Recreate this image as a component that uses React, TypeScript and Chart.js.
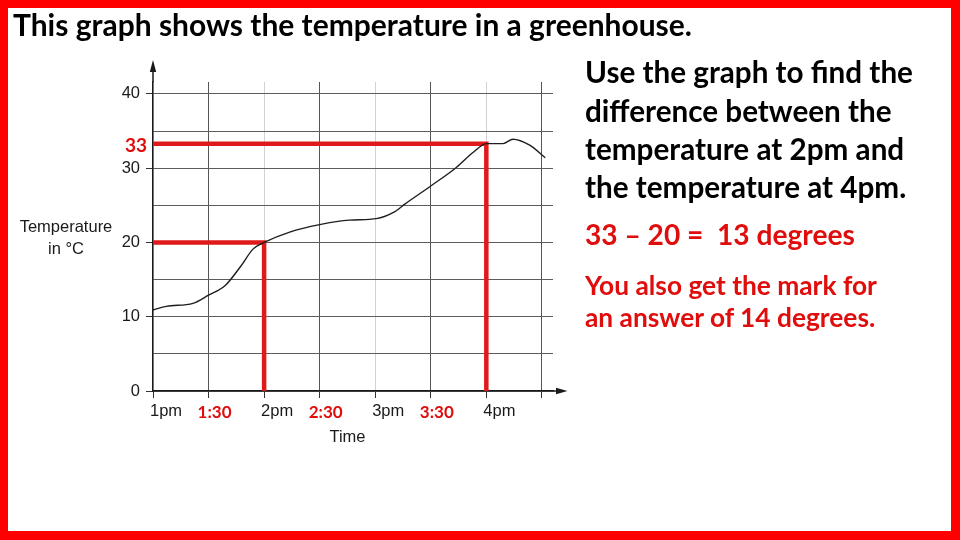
import React, { useEffect, useRef, useMemo } from 'react';
import { Chart, registerables } from 'chart.js';

Chart.register(...registerables);

// ---------- texts ----------
const titleText = 'This graph shows the temperature in a greenhouse.';
const questionLines = [
  'Use the graph to find the',
  'difference between the',
  'temperature at 2pm and',
  'the temperature at 4pm.',
];
const answerLine = '33 \u2013 20 =  13 degrees';
const noteLines = ['You also get the mark for', 'an answer of 14 degrees.'];
const yAxisLabelLines = ['Temperature', 'in \u00B0C'];
const xAxisTitle = 'Time';

// ---------- data (hours after 1pm, temperature in °C) ----------
const hoursAfter1pm = [0, 0.12, 0.36, 0.5, 0.65, 0.79, 0.9, 1.0, 1.23, 1.5, 1.77, 2.01, 2.16, 2.27, 2.5, 2.73, 2.88, 3.0, 3.15, 3.24, 3.39, 3.53];
const temperatures = [10.9, 11.4, 11.8, 12.9, 14.2, 16.8, 19.1, 20.0, 21.4, 22.4, 23.0, 23.2, 24.0, 25.2, 27.6, 30.1, 32.1, 33.3, 33.3, 33.9, 33.1, 31.4];

// ---------- ticks ----------
const hourTickLabels = ['1pm', '', '2pm', '', '3pm', '', '4pm', ''];
const halfHourLabels = ['', '1:30', '', '2:30', '', '3:30', '', ''];
const xStep = 0.5;
const xMax = 3.6;
const yStep = 5;
const yLabelStep = 10;
const yMax = 41.6;

// ---------- readings (2pm and 4pm) ----------
const readTimes = [1, 3];
const readTemps = [20, 33.3];
const readLabel = '33';

const RED_LINE = '#e01a1a';
const RED_TEXT = '#e00d0d';
const INK = '#1a1a1a';
const FONT_SANS = '"Liberation Sans", Arial, sans-serif';
const FONT_BOLD = 'Lato, "Open Sans", sans-serif';
const SANS_SIZE = 16.5;

function fitFontSize(text: string, family: string, width: number): number {
  const c = document.createElement('canvas').getContext('2d');
  if (!c) return 24;
  c.font = `bold 100px ${family}`;
  const w = c.measureText(text).width;
  return w > 0 ? (100 * width) / w : 24;
}

function TextLine(props: { text: string; left: number; baseline: number; size: number; color: string }) {
  const { text, left, baseline, size, color } = props;
  const L = Math.round(size * 1.3);
  const top = baseline - L / 2 - 0.387 * size;
  return (
    <div
      style={{
        position: 'absolute',
        left,
        top,
        lineHeight: L + 'px',
        fontSize: size,
        fontFamily: FONT_BOLD,
        fontWeight: 700,
        color,
        whiteSpace: 'pre',
      }}
    >
      {text}
    </div>
  );
}

const overlayPlugin = {
  id: 'overlay',
  afterDraw(chart: any) {
    const { ctx, chartArea: ca } = chart;
    const x = chart.scales.x;
    const y = chart.scales.y;
    const x0 = x.getPixelForValue(0);
    const y0 = y.getPixelForValue(0);
    ctx.save();
    // axis extensions with arrow heads
    ctx.strokeStyle = INK;
    ctx.fillStyle = INK;
    ctx.lineWidth = 1.5;
    ctx.beginPath();
    ctx.moveTo(x0, ca.top);
    ctx.lineTo(x0, ca.top - 11);
    ctx.moveTo(ca.right, y0);
    ctx.lineTo(ca.right + 4, y0);
    ctx.stroke();
    ctx.beginPath();
    ctx.moveTo(x0, ca.top - 22);
    ctx.lineTo(x0 - 3.2, ca.top - 10);
    ctx.lineTo(x0 + 3.2, ca.top - 10);
    ctx.closePath();
    ctx.fill();
    ctx.beginPath();
    ctx.moveTo(ca.right + 14.5, y0);
    ctx.lineTo(ca.right + 3, y0 - 3.2);
    ctx.lineTo(ca.right + 3, y0 + 3.2);
    ctx.closePath();
    ctx.fill();

    // "Time" axis title, centred under the labelled ticks
    const lastTick = (hourTickLabels.length - 1) * xStep;
    ctx.font = `${SANS_SIZE}px ${FONT_SANS}`;
    ctx.textAlign = 'center';
    ctx.textBaseline = 'alphabetic';
    ctx.fillStyle = INK;
    ctx.fillText(xAxisTitle, x.getPixelForValue(lastTick / 2), y0 + 50.5);

    // red half-hour labels
    ctx.font = `bold 17px ${FONT_BOLD}`;
    ctx.fillStyle = RED_TEXT;
    halfHourLabels.forEach((lab, i) => {
      if (!lab) return;
      ctx.fillText(lab, x.getPixelForValue(i * xStep) + 6, y0 + 27);
    });

    // red "33" reading label
    ctx.font = `bold 19px ${FONT_BOLD}`;
    ctx.textAlign = 'right';
    ctx.fillText(readLabel, x0 - 6, y.getPixelForValue(readTemps[1]) + 8);
    ctx.restore();
  },
};

export default function App() {
  const canvasRef = useRef<HTMLCanvasElement | null>(null);

  const sizes = useMemo(() => {
    return {
      title: fitFontSize(titleText, FONT_BOLD, 679),
      question: fitFontSize(questionLines[0], FONT_BOLD, 328),
      answer: fitFontSize(answerLine, FONT_BOLD, 270),
      note: fitFontSize(noteLines[0], FONT_BOLD, 292),
    };
  }, []);

  useEffect(() => {
    const canvas = canvasRef.current;
    if (!canvas) return;
    const curve = hoursAfter1pm.map((h, i) => ({ x: h, y: temperatures[i] }));
    const readingSets = readTimes.map((t, i) => ({
      data: [
        { x: 0, y: readTemps[i] },
        { x: t, y: readTemps[i] },
        { x: t, y: 0 },
      ],
      borderColor: RED_LINE,
      borderWidth: 4.5,
      pointRadius: 0,
      tension: 0,
      borderJoinStyle: 'miter' as const,
      borderCapStyle: 'butt' as const,
      fill: false,
    }));

    const isMultiple = (v: number, step: number) => Math.abs(v / step - Math.round(v / step)) < 1e-6;

    const chart = new Chart(canvas, {
      type: 'line',
      data: {
        datasets: [
          {
            data: curve,
            borderColor: '#1e1e1e',
            borderWidth: 1.4,
            pointRadius: 0,
            tension: 0.4,
            cubicInterpolationMode: 'monotone',
            fill: false,
          },
          ...readingSets,
        ] as any,
      },
      options: {
        responsive: false,
        animation: false,
        devicePixelRatio: 1,
        layout: { padding: { left: 93, top: 82, right: 407, bottom: 95 } },
        plugins: {
          legend: { display: false },
          tooltip: { enabled: false },
          title: { display: false },
        },
        scales: {
          x: {
            type: 'linear',
            min: 0,
            max: xMax,
            afterFit: (s: any) => {
              s.height = 54;
            },
            ticks: {
              stepSize: xStep,
              includeBounds: false,
              autoSkip: false,
              maxRotation: 0,
              minRotation: 0,
              labelOffset: 13,
              padding: 4,
              color: INK,
              font: { family: FONT_SANS, size: SANS_SIZE },
              callback: (v: any) => hourTickLabels[Math.round(Number(v) / xStep)] ?? '',
            },
            grid: {
              lineWidth: 1,
              tickLength: 7,
              color: (ctx: any) => {
                const v = ctx.tick ? ctx.tick.value : NaN;
                if (!isMultiple(v, xStep)) return 'transparent';
                return isMultiple(v, 1) ? '#d2d2d2' : '#555555';
              },
              tickColor: '#333333',
            },
            border: { display: true, color: INK, width: 1.5 },
          },
          y: {
            type: 'linear',
            min: 0,
            max: yMax,
            afterFit: (s: any) => {
              s.width = 60;
            },
            ticks: {
              stepSize: yStep,
              includeBounds: false,
              padding: 6,
              color: INK,
              font: { family: FONT_SANS, size: SANS_SIZE },
              callback: (v: any) => (isMultiple(Number(v), yLabelStep) ? String(v) : ''),
            },
            grid: {
              lineWidth: 1,
              tickLength: 7,
              color: '#5c5c5c',
              tickColor: (ctx: any) => (ctx.tick && isMultiple(ctx.tick.value, yLabelStep) ? '#333333' : 'transparent'),
            },
            border: { display: true, color: INK, width: 1.5 },
          },
        },
      } as any,
      plugins: [overlayPlugin],
    });
    return () => chart.destroy();
  }, []);

  return (
    <div style={{ position: 'absolute', left: 0, top: 0, width: 960, height: 540, background: '#ffffff', overflow: 'hidden' }}>
      <canvas ref={canvasRef} width={960} height={540} style={{ position: 'absolute', left: 0, top: 0, width: 960, height: 540 }} />

      <TextLine text={titleText} left={13} baseline={36} size={sizes.title} color="#000000" />

      {questionLines.map((t, i) => (
        <TextLine key={t} text={t} left={585} baseline={83.3 + i * 38.3} size={sizes.question} color="#000000" />
      ))}
      <TextLine text={answerLine} left={585} baseline={245} size={sizes.answer} color={RED_TEXT} />
      {noteLines.map((t, i) => (
        <TextLine key={t} text={t} left={585} baseline={295 + i * 31.7} size={sizes.note} color={RED_TEXT} />
      ))}

      <div
        style={{
          position: 'absolute',
          left: 16,
          top: 216.3,
          width: 100,
          textAlign: 'center',
          fontFamily: FONT_SANS,
          fontSize: SANS_SIZE,
          lineHeight: '21.3px',
          color: INK,
        }}
      >
        {yAxisLabelLines.map((t) => (
          <div key={t}>{t}</div>
        ))}
      </div>

      <div
        style={{
          position: 'absolute',
          left: 0,
          top: 0,
          width: 960,
          height: 540,
          boxSizing: 'border-box',
          borderStyle: 'solid',
          borderColor: '#ff0000',
          borderWidth: '8px 9px 9px 8px',
          pointerEvents: 'none',
        }}
      />
    </div>
  );
}
